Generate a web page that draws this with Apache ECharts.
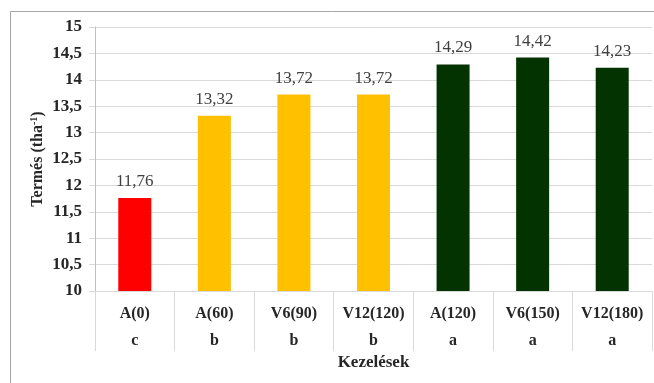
<!DOCTYPE html>
<html><head><meta charset="utf-8">
<script src="https://cdn.jsdelivr.net/npm/echarts@6/dist/echarts.min.js"></script>
<style>html,body{margin:0;padding:0;background:#fff}#c{width:654px;height:383px}</style>
</head><body><div id="c"></div>
<script>
const categories = ['A(0)','A(60)','V6(90)','V12(120)','A(120)','V6(150)','V12(180)'];
const groups = ['c','b','b','b','a','a','a'];
const values = [11.76,13.32,13.72,13.72,14.29,14.42,14.23];
const barColors = ['#FF0000','#FFC000','#FFC000','#FFC000','#023300','#023300','#023300'];
const yTicks = {min:10, max:15, interval:0.5};

const serif = '"Liberation Serif","Times New Roman",serif';
const chart = echarts.init(document.getElementById('c'));
chart.setOption({
  animation:false,
  graphic:[{type:'rect',shape:{x:10.5,y:11.5,width:700,height:400},style:{fill:'none',stroke:'#a6a6a6',lineWidth:1},silent:true}],
  grid:{left:95,right:2,top:27,bottom:92},
  xAxis:{
    type:'category',data:categories,
    axisLine:{show:true,lineStyle:{color:'#d9d9d9'}},
    axisTick:{show:true,interval:0,length:60,lineStyle:{color:'#d9d9d9'}},
    axisLabel:{interval:0,margin:9,
      formatter:(v,i)=>'{n|'+v+'}\n{l|'+groups[i]+'}',
      rich:{n:{fontFamily:serif,fontWeight:'bold',fontSize:16,color:'#262626',lineHeight:27},
            l:{fontFamily:serif,fontWeight:'bold',fontSize:16,color:'#262626',lineHeight:27}}},
    name:'Kezelések',nameLocation:'middle',nameGap:63,nameMoveOverlap:false,
    nameTextStyle:{fontFamily:serif,fontWeight:'bold',fontSize:17,color:'#262626'}
  },
  yAxis:{
    type:'value',min:yTicks.min,max:yTicks.max,interval:yTicks.interval,
    axisLine:{show:true,lineStyle:{color:'#bfbfbf'}},
    axisTick:{show:true,length:6,lineStyle:{color:'#d9d9d9'}},
    splitLine:{lineStyle:{color:'#d9d9d9'}},
    axisLabel:{margin:13,fontFamily:serif,fontWeight:'bold',fontSize:17,color:'#262626',
      formatter:v=>String(v).replace('.',',')},
    name:'{a|Termés (tha}{s|-1}{a|)}',nameLocation:'middle',nameGap:48,nameRotate:90,nameMoveOverlap:false,
    nameTextStyle:{rich:{a:{fontFamily:serif,fontWeight:'bold',fontSize:16,color:'#262626'},
                         s:{fontFamily:serif,fontWeight:'bold',fontSize:10,color:'#262626',verticalAlign:'top',padding:[0,0,8,0]}}}
  },
  series:[{
    type:'bar',barWidth:33,
    data:values.map((v,i)=>({value:v,itemStyle:{color:barColors[i]}})),
    label:{show:true,position:'top',distance:8,fontFamily:serif,fontSize:17,color:'#404040',
      formatter:p=>p.value.toFixed(2).replace('.',',')}
  }]
});
</script></body></html>
